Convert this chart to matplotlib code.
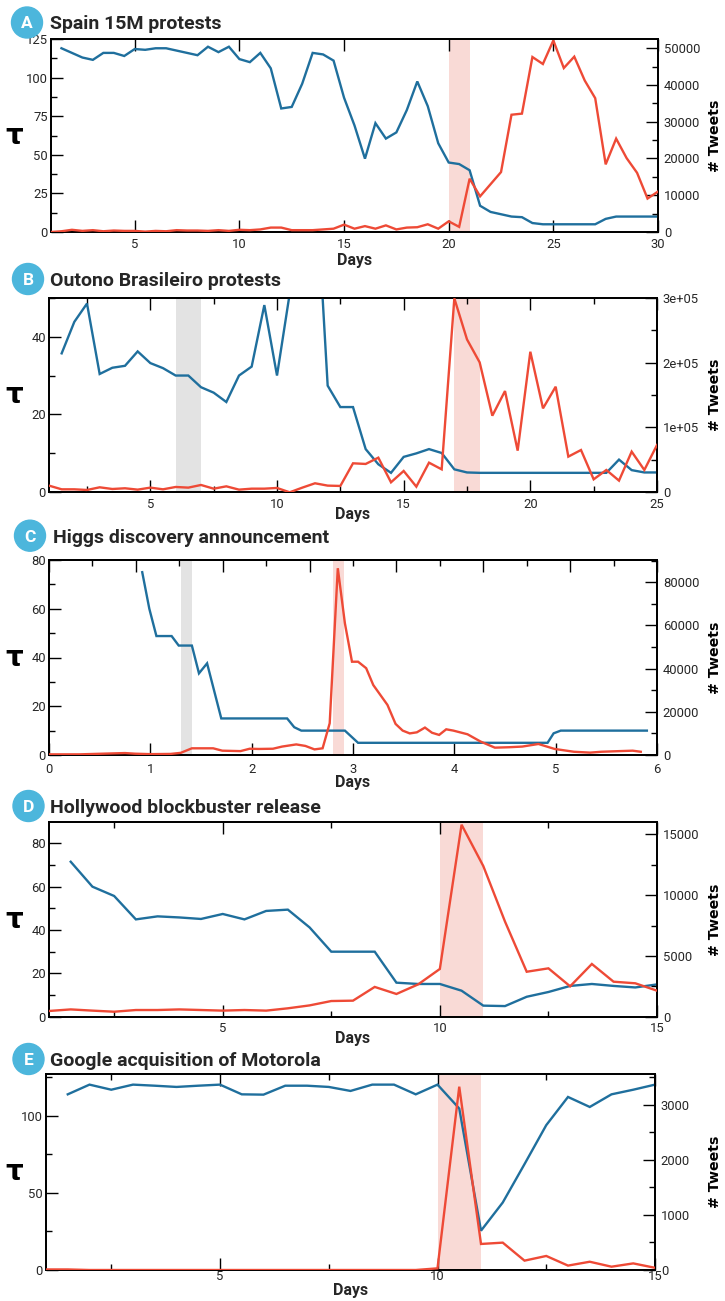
import numpy as np
import matplotlib
matplotlib.use('Agg')
import matplotlib.pyplot as plt
from matplotlib.ticker import MultipleLocator, FuncFormatter
from matplotlib.patches import Circle

# ---------------- data ----------------
# A: Spain 15M protests
A_days_tau = np.arange(1.5, 30.01, 0.5)
A_tau = [119, 116, 113, 111.5, 116, 116, 114, 118.5,
         118, 119, 119, 117.5, 116, 114.5, 120, 116.5, 120, 112,
         110, 116, 106, 80, 81, 96, 116, 115, 111, 87,
         69, 47.5, 70.5, 60.5, 64.5, 79, 97.5, 81.5, 57.5, 45,
         44, 40, 17, 13, 11.5, 10, 9.6, 5.8, 5, 5,
         5, 5, 5, 5, 8.5, 10, 10, 10, 10, 10]
A_days_tw = np.arange(1.0, 30.01, 0.5)
A_tweets = [0, 200, 600, 300, 500, 200, 400, 300, 300, 100,
            300, 200, 500, 400, 400, 300, 500, 300, 600, 500,
            700, 1200, 1200, 500, 500, 500, 700, 900, 2000, 900,
            1600, 900, 1800, 700, 1200, 1300, 2100, 900, 2900, 1400,
            14500, 9700, 13000, 16300, 31900, 32200, 47600, 45700, 52100, 44600,
            47700, 41200, 36400, 18400, 25400, 20100, 16100, 9100, 11000]

# B: Outono Brasileiro protests
B_days_tau = np.arange(1.5, 25.01, 0.5)
B_tau = [35.7, 43.8, 48.5, 30.4, 32, 32.5, 36.2, 33.2, 31.9, 30,
         30, 27, 25.6, 23.2, 30, 32.3, 48.1, 30, 51, 70,
         84, 27.4, 21.9, 21.9, 11.1, 7.2, 5.0, 9.1, 10, 11.1,
         10.1, 5.9, 5.1, 5, 5, 5, 5, 5, 5, 5,
         5, 5, 5, 5, 8.4, 5.7, 5.1, 5.1]
B_days_tw = np.arange(1.0, 25.01, 0.5)
B_tweets = [10300, 4600, 4600, 3600, 7700, 5100, 6200, 4100, 7200, 4600,
            8200, 7200, 11300, 5600, 9200, 4100, 5600, 5600, 6700, 0,
            7200, 13900, 10300, 9800, 44700, 43700, 53400, 15400, 32900, 8700,
            45700, 35400, 299000, 235700, 200300, 118100, 156100, 64200, 216700, 129400,
            162800, 55000, 65200, 20000, 34400, 18000, 62700, 34400, 72900]

# C: Higgs discovery announcement
C_days_tau = [0.92, 0.99, 1.06, 1.21, 1.28, 1.41, 1.48, 1.56, 1.70, 2.35,
              2.42, 2.49, 2.92, 3.05, 4.92, 4.98, 5.05, 5.90]
C_tau = [75, 60, 48.8, 48.8, 44.9, 44.9, 33.5, 37.6, 15, 15,
         11.4, 10, 10, 5, 5, 8.9, 10, 10]
C_days_tw = [0, 0.3, 0.6, 0.75, 0.85, 1.0, 1.2, 1.3, 1.41, 1.55,
             1.62, 1.71, 1.89, 1.98, 2.07, 2.21, 2.30, 2.44, 2.53, 2.62,
             2.70, 2.77, 2.85, 2.92, 2.99, 3.05, 3.13, 3.20, 3.34, 3.42,
             3.49, 3.56, 3.63, 3.71, 3.78, 3.85, 3.92, 3.99, 4.13, 4.26,
             4.40, 4.54, 4.67, 4.83, 4.99, 5.18, 5.34, 5.45, 5.63, 5.76, 5.84]
C_tweets = [300, 300, 700, 900, 600, 400, 500, 1000, 3100, 3100,
            3100, 2000, 1800, 2900, 2800, 2900, 3900, 4900, 4200, 2600,
            3100, 14700, 86500, 61000, 43200, 43200, 40200, 32400, 23200, 14400,
            11300, 10000, 10500, 12700, 10300, 9300, 11900, 11300, 9600, 6200,
            3400, 3600, 3900, 5100, 2800, 1500, 1100, 1500, 1800, 2000, 1500]

# D: Hollywood blockbuster release
D_days_tau = np.arange(1.5, 15.01, 0.5)
D_tau = [71.5, 60, 55.7, 44.9, 46.3, 45.8, 45.1, 47.4, 44.9, 48.8,
         49.4, 41.2, 30, 30, 30, 15.7, 15.1, 15.1, 12, 5.1,
         4.9, 9.2, 11.4, 14.2, 15.1, 14.2, 13.5, 14.9]
D_days_tw = np.arange(1.0, 15.01, 0.5)
D_tweets = [470, 600, 500, 410, 550, 550, 600, 550, 500, 550,
            500, 690, 930, 1290, 1320, 2450, 1870, 2660, 3930, 15800,
            12400, 7830, 3700, 3980, 2500, 4340, 2880, 2750, 2140]

# E: Google acquisition of Motorola
E_days_tau = np.arange(1.5, 15.01, 0.5)
E_tau = [114, 120.3, 117, 120.3, 119.6, 118.8, 119.6, 120.3, 114, 113.8,
         119.6, 119.6, 118.8, 116.2, 120.3, 120.3, 114, 120.3, 104.8, 25.5,
         43.8, 68.7, 94, 112.3, 105.8, 114, 117, 120.3]
E_days_tw = np.arange(1.0, 15.01, 0.5)
E_tweets = [10, 10, 0, 0, 0, 0, 0, 0, 0, 0,
            0, 0, 0, 0, 0, 0, 0, 0, 30, 3330,
            473, 497, 170, 255, 80, 150, 60, 120, 40]

titles = ["Spain 15M protests", "Outono Brasileiro protests",
          "Higgs discovery announcement", "Hollywood blockbuster release",
          "Google acquisition of Motorola"]
letters = ["A", "B", "C", "D", "E"]

# ---------------- style ----------------
W, H, DPI = 725, 1301, 100
BLUE = '#1f6f9d'
RED = '#ee4a36'
PINK = '#f9dad6'
GRAY = '#e3e3e3'
CIRC = '#4cb6dc'
TXT = '#262626'
TICKF = ['Roboto', 'DejaVu Sans']
TITLEF = ['Roboto', 'DejaVu Sans']

fig = plt.figure(figsize=(W / DPI, H / DPI), dpi=DPI)


def fy(ypx):
    return 1 - ypx / H


panels = [
    dict(rect=(51, 658, 39, 232), circ=(27, 22.5), tx=50, xlim=(1, 30), xmaj=5, xmin=None,
         yl=(0, 125), ylmaj=25, ylmin=12.5, yr=(0, 52500), yrmaj=10000, yrmin=5000,
         fmt=None, spans=[(20, 21, PINK)], pad=6, days_y=261,
         tau=(A_days_tau, A_tau), tw=(A_days_tw, A_tweets)),
    dict(rect=(49, 657, 297.7, 492.3), circ=(28, 279), tx=49.5, xlim=(1, 25), xmaj=5, xmin=2.5,
         yl=(0, 50), ylmaj=20, ylmin=10, yr=(0, 300000), yrmaj=100000, yrmin=50000,
         fmt='sci', spans=[(6, 7, GRAY), (17, 18, PINK)], pad=6, days_y=514,
         tau=(B_days_tau, B_tau), tw=(B_days_tw, B_tweets)),
    dict(rect=(49, 657, 560, 755), circ=(30, 535.7), tx=53, xlim=(0, 6), xmaj=1, xmin=None,
         yl=(0, 80), ylmaj=20, ylmin=10, yr=(0, 90300), yrmaj=20000, yrmin=10000,
         fmt=None, spans=[(1.30, 1.41, GRAY), (2.80, 2.91, PINK)], pad=8, days_y=782,
         tau=(C_days_tau, C_tau), tw=(C_days_tw, C_tweets), top14=True),
    dict(rect=(49, 657, 822.3, 1016.7), circ=(28.5, 806), tx=49.5, xlim=(1, 15), xmaj=5, xmin=2.5,
         yl=(0, 89.7), ylmaj=20, ylmin=10, yr=(0, 16000), yrmaj=5000, yrmin=2500,
         fmt=None, spans=[(10, 11, PINK)], pad=5, days_y=1038,
         tau=(D_days_tau, D_tau), tw=(D_days_tw, D_tweets)),
    dict(rect=(46, 655, 1074.3, 1270), circ=(28.5, 1059), tx=49.5, xlim=(1, 15), xmaj=5, xmin=2.5,
         yl=(0, 127), ylmaj=50, ylmin=25, yr=(0, 3555), yrmaj=1000, yrmin=500,
         fmt=None, spans=[(10, 11, PINK)], pad=0.5, days_y=1291,
         tau=(E_days_tau, E_tau), tw=(E_days_tw, E_tweets)),
]

MAJL, MINL = 8.6, 4.2

for i, p in enumerate(panels):
    l, r, t, b = p['rect']
    ax = fig.add_axes([l / W, 1 - b / H, (r - l) / W, (b - t) / H])
    ax2 = ax.twinx()

    for (s0, s1, c) in p['spans']:
        ax.axvspan(s0, s1, color=c, lw=0, zorder=0)

    ax.plot(p['tau'][0], p['tau'][1], color=BLUE, lw=1.7, zorder=3, solid_joinstyle='miter')
    ax2.plot(p['tw'][0], p['tw'][1], color=RED, lw=1.7, zorder=3, solid_joinstyle='miter')

    ax.set_xlim(*p['xlim'])
    ax.set_ylim(*p['yl'])
    ax2.set_ylim(*p['yr'])

    ax.xaxis.set_major_locator(MultipleLocator(p['xmaj']))
    if p['xmin']:
        ax.xaxis.set_minor_locator(MultipleLocator(p['xmin']))
    ax.yaxis.set_major_locator(MultipleLocator(p['ylmaj']))
    ax.yaxis.set_minor_locator(MultipleLocator(p['ylmin']))
    ax2.yaxis.set_major_locator(MultipleLocator(p['yrmaj']))
    ax2.yaxis.set_minor_locator(MultipleLocator(p['yrmin']))

    if p['fmt'] == 'sci':
        ax2.yaxis.set_major_formatter(FuncFormatter(
            lambda v, pos: '0' if v == 0 else f'{v:.0e}'))
    else:
        ax2.yaxis.set_major_formatter(FuncFormatter(lambda v, pos: f'{int(round(v))}'))
    ax.yaxis.set_major_formatter(FuncFormatter(lambda v, pos: f'{int(round(v))}'))
    ax.xaxis.set_major_formatter(FuncFormatter(lambda v, pos: f'{int(round(v))}'))

    top14 = p.get('top14', False)
    ax.tick_params(axis='x', which='both', direction='in', top=not top14, bottom=True,
                   width=1.0, colors='black', labelcolor=TXT, labelsize=9.4,
                   pad=p['pad'] * 0.72)
    ax.tick_params(axis='x', which='major', length=MAJL)
    ax.tick_params(axis='x', which='minor', length=MINL)
    ax.tick_params(axis='y', which='both', direction='in', width=1.0, labelsize=9.4,
                   labelcolor=TXT, pad=2.2)
    ax.tick_params(axis='y', which='major', length=MAJL)
    ax.tick_params(axis='y', which='minor', length=MINL)
    ax2.tick_params(axis='y', which='both', direction='in', width=1.0, labelsize=9.4,
                    labelcolor=TXT, pad=4.2)
    ax2.tick_params(axis='y', which='major', length=MAJL)
    ax2.tick_params(axis='y', which='minor', length=MINL)

    if top14:
        sec = ax.secondary_xaxis('top', functions=(lambda x: x * 14 / 6, lambda x: x * 6 / 14))
        sec.xaxis.set_major_locator(MultipleLocator(2))
        sec.xaxis.set_minor_locator(MultipleLocator(1))
        sec.tick_params(which='both', direction='in', labeltop=False, width=1.0)
        sec.tick_params(which='major', length=MAJL)
        sec.tick_params(which='minor', length=MINL)
        sec.spines['top'].set_linewidth(1.3)

    for a in (ax, ax2):
        for s in a.spines.values():
            s.set_linewidth(1.3)
            s.set_color('black')
        for lab in a.get_xticklabels() + a.get_yticklabels():
            lab.set_fontfamily(TICKF)

    # labels
    cy_ax = (t + b) / 2
    fig.text(14 / W, fy(cy_ax), 'τ', ha='center', va='center', fontsize=20,
             fontweight='bold', family=['DejaVu Sans'], color='black')
    fig.text(715 / W, fy(cy_ax), '# Tweets', ha='center', va='center', rotation=90,
             fontsize=10.2, fontweight='bold', family=['DejaVu Sans'], color='black')
    fig.text(((l + r) / 2) / W, fy(p['days_y']), 'Days', ha='center', va='center',
             fontsize=11.5, fontweight='bold', family=TICKF, color=TXT)

    # title
    cx, cy = p['circ']
    fig.patches.append(Circle((cx / DPI, (H - cy) / DPI), 15.5 / DPI, color=CIRC,
                              transform=fig.dpi_scale_trans, zorder=5))
    fig.text(cx / W, fy(cy + 6.0), letters[i], ha='center', va='baseline', fontsize=12.5,
             fontweight='bold', family=TICKF, color='white', zorder=6)
    fig.text(p['tx'] / W, fy(cy + 6.9), titles[i], ha='left', va='baseline',
             fontsize=14, fontweight='bold', family=TITLEF, color=TXT)

fig.savefig('out.png', dpi=DPI)
